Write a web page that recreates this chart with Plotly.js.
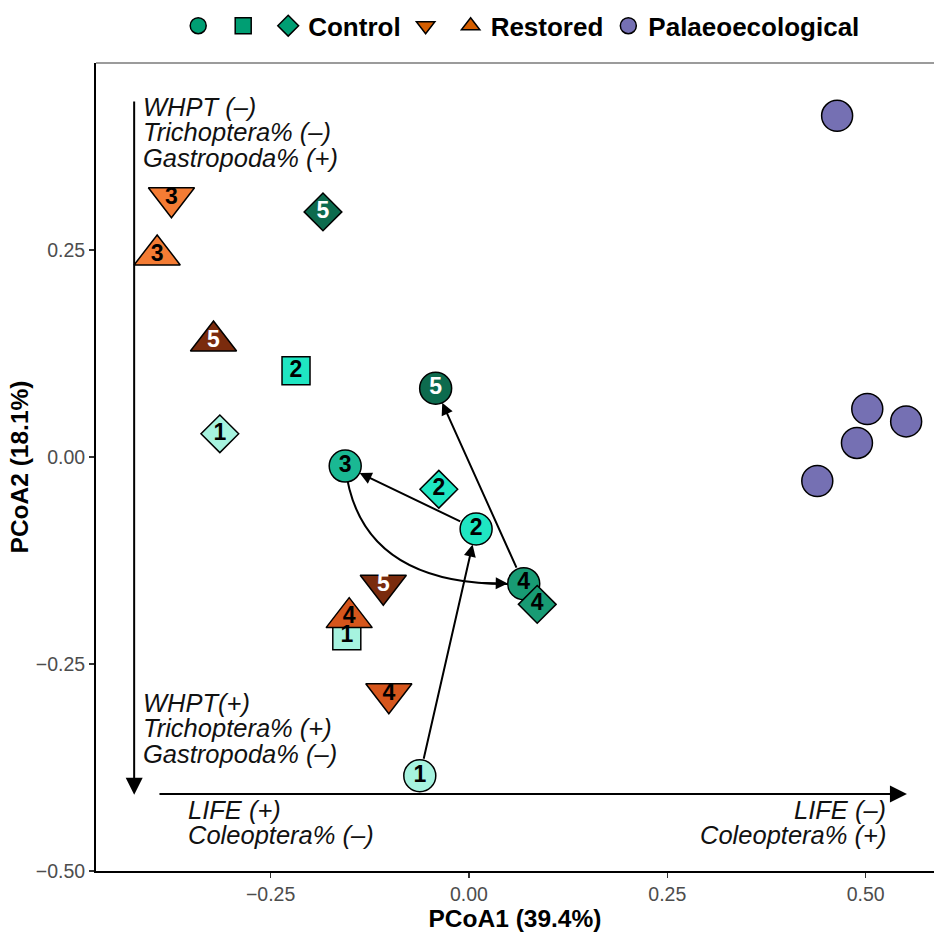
<!DOCTYPE html>
<html>
<head>
<meta charset="utf-8">
<script src="https://cdn.plot.ly/plotly-3.0.1.min.js"></script>
<style>html,body{margin:0;padding:0;background:#fff;}#chart{width:934px;height:932px;}</style>
</head>
<body>
<div id="chart"></div>
<script>
// ---- data (PCoA scores) ----
const controlCircleX = [-0.062, 0.009, -0.156, 0.069, -0.042];
const controlCircleY = [-0.385, -0.087, -0.011, -0.153, 0.083];
const controlCircleLab = ['1', '2', '3', '4', '5'];

const controlSquareX = [-0.154, -0.218];
const controlSquareY = [-0.216, 0.104];
const controlSquareLab = ['1', '2'];

const controlDiamondX = [-0.314, -0.038, 0.086, -0.184];
const controlDiamondY = [0.028, -0.039, -0.178, 0.296];
const controlDiamondLab = ['1', '2', '4', '5'];

const restoredDownX = [-0.375, -0.101, -0.108];
const restoredDownY = [0.313, -0.286, -0.155];
const restoredDownLab = ['3', '4', '5'];

const restoredUpX = [-0.393, -0.151, -0.322];
const restoredUpY = [0.244, -0.194, 0.140];
const restoredUpLab = ['3', '4', '5'];

const palaeoX = [0.464, 0.502, 0.551, 0.489, 0.439];
const palaeoY = [0.412, 0.058, 0.043, 0.017, -0.029];

const legendNames = ['', '', 'Control', '', 'Restored', 'Palaeoecological'];
const xTickVals = [-0.25, 0, 0.25, 0.5];
const yTickVals = [-0.5, -0.25, 0, 0.25];

const noteTopLines = ['WHPT (–)', 'Trichoptera% (–)', 'Gastropoda% (+)'];
const noteBottomLines = ['WHPT(+)', 'Trichoptera% (+)', 'Gastropoda% (–)'];
const lifeLeftLines = ['LIFE (+)', 'Coleoptera% (–)'];
const lifeRightLines = ['LIFE (–)', 'Coleoptera% (+)'];

// ---- styles ----
const controlShade = {'1': '#a6f3df', '2': '#1fe6c2', '3': '#1ab893', '4': '#189b74', '5': '#0d6b4e'};
const restoredShade = {'3': '#f47c34', '4': '#d6561c', '5': '#7a2b0d'};
const labColor = l => (l === '5' ? '#ffffff' : '#000000');
const FONT = 'Liberation Sans, Arial, Helvetica, sans-serif';

function markerTrace(x, y, labs, symbol, size, shade) {
  return {
    type: 'scatter', mode: 'markers', x: x, y: y, showlegend: false, hoverinfo: 'skip',
    marker: {symbol: symbol, size: size, color: labs.map(l => shade[l]), line: {color: '#000', width: 1.5}},
    cliponaxis: false
  };
}
function textTrace(x, y, labs) {
  return {
    type: 'scatter', mode: 'text', x: x, y: y, text: labs, showlegend: false, hoverinfo: 'skip',
    textposition: 'middle center',
    textfont: {family: FONT, size: 23, weight: 'bold', color: labs.map(labColor)},
    cliponaxis: false
  };
}

const palaeoShade = {'p': '#7570b3'};
const palaeoLab = palaeoX.map(() => 'p');

const traces = [
  markerTrace(controlCircleX, controlCircleY, controlCircleLab, 'circle', 32, controlShade),
  markerTrace(controlSquareX, controlSquareY, controlSquareLab, 'square', 28, controlShade),
  markerTrace(controlDiamondX, controlDiamondY, controlDiamondLab, 'diamond', 29, controlShade),
  markerTrace(restoredDownX, restoredDownY, restoredDownLab, 'triangle-down', 40, restoredShade),
  markerTrace(restoredUpX, restoredUpY, restoredUpLab, 'triangle-up', 40, restoredShade),
  markerTrace(palaeoX, palaeoY, palaeoLab, 'circle', 31, palaeoShade),
  textTrace(controlCircleX, controlCircleY, controlCircleLab),
  textTrace(controlSquareX, controlSquareY, controlSquareLab),
  textTrace(controlDiamondX, controlDiamondY, controlDiamondLab),
  textTrace(restoredDownX, restoredDownY, restoredDownLab),
  textTrace(restoredUpX, restoredUpY, restoredUpLab)
];

// legend-only traces
const legendSymbols = ['circle', 'square', 'diamond', 'triangle-down', 'triangle-up', 'circle'];
const legendColors = ['#009e73', '#009e73', '#009e73', '#d55e00', '#d55e00', '#7570b3'];
legendNames.forEach((n, i) => {
  traces.push({
    type: 'scatter', mode: 'markers', x: [null], y: [null], name: n, showlegend: true,
    marker: {symbol: legendSymbols[i], size: 20, color: legendColors[i], line: {color: '#000', width: 1.5}}
  });
});

// ---- trajectory arrows between control circle samples ----
const annotations = [];
function arrow(i, j) {
  annotations.push({
    x: controlCircleX[j], y: controlCircleY[j], ax: controlCircleX[i], ay: controlCircleY[i],
    xref: 'x', yref: 'y', axref: 'x', ayref: 'y', text: '', showarrow: true,
    arrowhead: 2, arrowsize: 1.2, arrowwidth: 2, arrowcolor: '#000', standoff: 16, startstandoff: 16
  });
}
arrow(0, 1); arrow(1, 2); arrow(3, 4);

// curved 3 -> 4
const x3 = controlCircleX[2], y3 = controlCircleY[2], x4 = controlCircleX[3], y4 = controlCircleY[3];
const cx = x3 + 0.08 * (x4 - x3), cy = y4 - 0.06 * (y3 - y4);
const bez = t => [
  (1 - t) * (1 - t) * x3 + 2 * (1 - t) * t * cx + t * t * x4,
  (1 - t) * (1 - t) * y3 + 2 * (1 - t) * t * cy + t * t * y4
];
const tail = bez(0.86);
annotations.push({
  x: x4, y: y4, ax: tail[0], ay: tail[1], xref: 'x', yref: 'y', axref: 'x', ayref: 'y',
  text: '', showarrow: true, arrowhead: 2, arrowsize: 1.2, arrowwidth: 2, arrowcolor: '#000', standoff: 16
});

// axis direction arrows
annotations.push({
  x: -0.422, y: -0.408, ax: -0.422, ay: 0.431, xref: 'x', yref: 'y', axref: 'x', ayref: 'y',
  text: '', showarrow: true, arrowhead: 2, arrowsize: 1.7, arrowwidth: 2, arrowcolor: '#000', standoff: 0
});
annotations.push({
  x: 0.552, y: -0.407, ax: -0.392, ay: -0.407, xref: 'x', yref: 'y', axref: 'x', ayref: 'y',
  text: '', showarrow: true, arrowhead: 2, arrowsize: 1.7, arrowwidth: 2, arrowcolor: '#000', standoff: 0
});

// italic notes
const noteFont = {family: FONT, size: 25.5, style: 'italic', color: '#111'};
const lineStep = 0.0308;
function note(lines, x, yFirst, anchor) {
  lines.forEach((t, k) => annotations.push({
    x: x, y: yFirst - k * lineStep, xref: 'x', yref: 'y', text: t, showarrow: false,
    xanchor: anchor, yanchor: 'middle', font: noteFont
  }));
}
note(noteTopLines, -0.414, 0.423, 'left');
note(noteBottomLines, -0.414, -0.297, 'left');
note(lifeLeftLines, -0.357, -0.426, 'left');
note(lifeRightLines, 0.528, -0.426, 'right');

const layout = {
  width: 934, height: 932,
  margin: {l: 96, r: 0, t: 63, b: 61},
  paper_bgcolor: '#fff', plot_bgcolor: '#fff',
  font: {family: FONT, color: '#000'},
  showlegend: true,
  legend: {
    orientation: 'h', x: 0.508, xanchor: 'center', y: 1.046, yanchor: 'middle',
    font: {family: FONT, size: 26, weight: 'bold', color: '#000'}, bgcolor: 'rgba(0,0,0,0)'
  },
  xaxis: {
    range: [-0.4701, 0.5861], tickvals: xTickVals, tickformat: '.2f',
    showgrid: false, zeroline: false, showline: true, linecolor: '#000', linewidth: 2,
    ticks: 'outside', ticklen: 5, tickwidth: 1.5, tickcolor: '#333',
    tickfont: {family: FONT, size: 19.5, color: '#4d4d4d'},
    title: {text: 'PCoA1 (39.4%)', font: {family: FONT, size: 24.5, weight: 'bold', color: '#000'}, standoff: 6}
  },
  yaxis: {
    range: [-0.5, 0.4758], tickvals: yTickVals, tickformat: '.2f',
    showgrid: false, zeroline: false, showline: true, linecolor: '#000', linewidth: 2,
    ticks: 'outside', ticklen: 5, tickwidth: 1.5, tickcolor: '#333',
    tickfont: {family: FONT, size: 19.5, color: '#4d4d4d'},
    title: {text: 'PCoA2 (18.1%)', font: {family: FONT, size: 24.5, weight: 'bold', color: '#000'}, standoff: 0}
  },
  shapes: [
    {type: 'line', xref: 'paper', yref: 'paper', x0: 0, x1: 1, y0: 1, y1: 1, line: {color: '#7a7a7a', width: 1.5}},
    {type: 'path', xref: 'x', yref: 'y', layer: 'below',
     path: `M ${x3},${y3} Q ${cx},${cy} ${x4},${y4}`, line: {color: '#000', width: 2}}
  ],
  annotations: annotations
};

Plotly.newPlot('chart', traces, layout, {displayModeBar: false, staticPlot: true});
</script>
</body>
</html>
